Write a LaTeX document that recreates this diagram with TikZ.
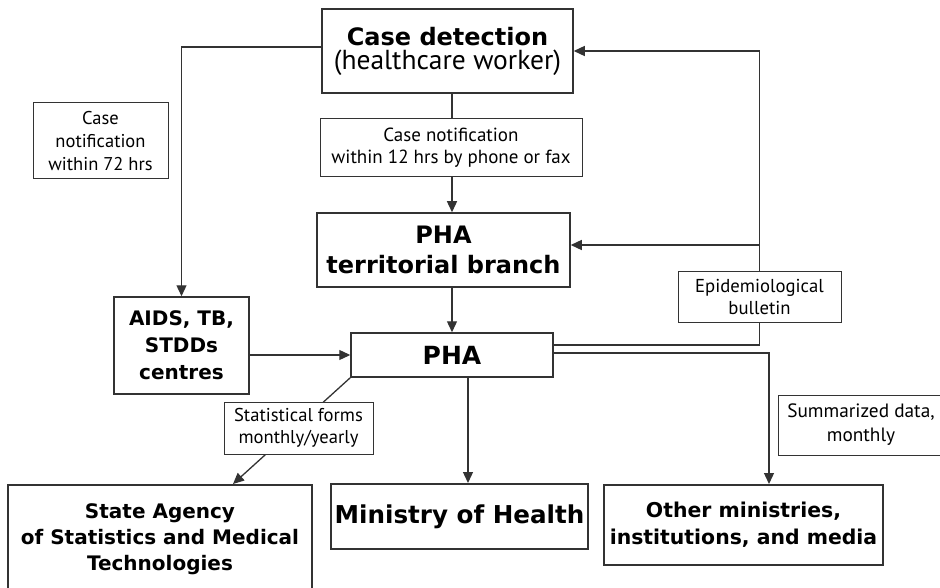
\documentclass[tikz,border=0pt]{standalone}
\usepackage{fontspec}
\setmainfont{PT Sans}
\newfontfamily\heavyfont{DejaVu Sans}
\usetikzlibrary{arrows.meta}
\definecolor{linegray}{HTML}{333333}
\begin{document}
\begin{tikzpicture}[x=1pt,y=1pt,
  box/.style={draw=linegray,line width=1.5pt,align=center},
  bigbox/.style={box,line width=2pt},
  tag/.style={draw=linegray,line width=1pt,fill=white,align=center,font=\fontsize{19}{22}\selectfont},
  wire/.style={draw=linegray,line width=1.3pt},
  arr/.style={wire,-{Triangle[length=11pt,width=10pt]}}]
\tikzstyle{every node}+=[inner sep=0pt]
\useasboundingbox (0,0) rectangle (940,-588);
\clip (0,0) rectangle (940,-588);
\node [box,minimum width=251,minimum height=84,font=\fontsize{27.5}{24}\selectfont] (casedet) at (447.5,-51) {{\heavyfont\bfseries\fontsize{24}{24}\selectfont Case detection}\\(healthcare worker)};
\node [tag,minimum width=262,minimum height=58] (notif12) at (451,-148) {Case notification\\within 12 hrs by phone or fax};
\node [tag,minimum width=135,minimum height=76,font=\fontsize{18.5}{23}\selectfont] (notif72) at (100.5,-141) {Case\\notification\\within 72 hrs};
\node [box,minimum width=253,minimum height=74,font=\heavyfont\bfseries\fontsize{24}{30}\selectfont] (territorial) at (443.5,-250) {PHA\\territorial branch};
\node [box,minimum width=202,minimum height=44,font=\heavyfont\bfseries\fontsize{25}{30}\selectfont] (pha) at (452,-355) {PHA};
\node [box,minimum width=135,minimum height=97,font=\heavyfont\bfseries\fontsize{20}{27}\selectfont] (aids) at (181.5,-345.5) {AIDS, TB,\\STDDs\\centres};
\node [tag,minimum width=163,minimum height=50,font=\fontsize{18.7}{22}\selectfont] (epibull) at (759.5,-297) {Epidemiological\\bulletin};
\node [tag,minimum width=166,minimum height=60,font=\fontsize{19.3}{24}\selectfont] (summary) at (861,-425) {Summarized data,\\monthly};
\node [bigbox,minimum width=304,minimum height=108,font=\heavyfont\bfseries\fontsize{20}{26}\selectfont] (stateagency) at (160,-539) {State Agency\\of Statistics and Medical\\Technologies};
\node [bigbox,minimum width=257,minimum height=65,font=\heavyfont\bfseries\fontsize{24.6}{30}\selectfont] (ministry) at (459.5,-516.5) {Ministry of Health};
\node [bigbox,minimum width=279,minimum height=80,font=\heavyfont\bfseries\fontsize{20.4}{27}\selectfont] (othermin) at (743.5,-525) {Other ministries,\\institutions, and media};
\coordinate (terrin) at ([yshift=5]territorial.east);
\coordinate (phaout) at ([xshift=16]pha.south);
\draw [arr] ([yshift=4]casedet.west) -| (aids.north);
\draw [wire] (casedet.south -| pha.north) -- (notif12.north -| pha.north);
\draw [arr] (notif12.south -| pha.north) -- (territorial.north -| pha.north);
\draw [arr] (territorial.south -| pha.north) -- (pha.north);
\draw [arr] (aids.east |- pha.west) -- (pha.west);
\draw [wire] ([yshift=10]pha.east) -| (epibull.south);
\draw [arr] (epibull.north) |- (casedet.east);
\draw [arr] (terrin -| epibull.north) -- (terrin);
\draw [arr] ([yshift=2]pha.east) -| ([xshift=25.5]othermin.north);
\draw [arr] (phaout) -- (phaout |- ministry.north);
\draw [arr] (pha.south west) -- ([xshift=73]stateagency.north);
\node [tag,minimum width=149,minimum height=52,font=\fontsize{18.6}{22}\selectfont] (statforms) at (298.5,-428) {Statistical forms\\monthly/yearly};
\end{tikzpicture}
\end{document}
